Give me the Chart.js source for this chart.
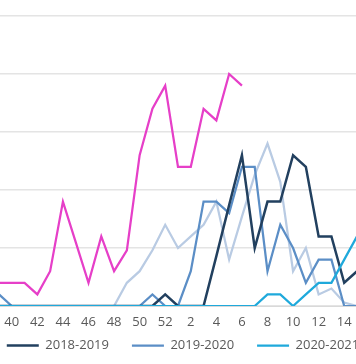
<!DOCTYPE html>
<html><head><meta charset="utf-8">
<script src="https://cdn.jsdelivr.net/npm/chart.js@4"></script>
<style>
html,body{margin:0;padding:0;background:#fff;overflow:hidden;width:356px;height:364px;position:relative;}
#wrap{position:absolute;left:-167px;top:0;width:700px;height:376px;}
</style></head><body>
<div id="wrap"><canvas id="c"></canvas></div>
<script>
const weeks = ['39','40','41','42','43','44','45','46','47','48','49','50','51','52','1','2','3','4','5','6','7','8','9','10','11','12','13','14','15'];
const seasons = ['2017-2018','2018-2019','2019-2020','2020-2021','2021-2022'];
const s2017 = [0,0,0,0,0,0,0,0,0,0,2,3,4.8,7,5,6,7,9,4,7.7,11.3,14,10.7,3,5,1,1.5,0.3,0];
const s2018 = [0,0,0,0,0,0,0,0,0,0,0,0,0,1,0,0,0,4.3,8.7,13,5,9,9,13,12,6,6,2,3];
const s2019 = [1,0,0,0,0,0,0,0,0,0,0,0,1,0,0,3,9,9,8,12,12,3,7,5,2,4,4,0,0];
const s2020 = [0,0,0,0,0,0,0,0,0,0,0,0,0,0,0,0,0,0,0,0,0,1,1,0,1,2,2,4,6];
const s2021 = [2,2,2,1,3,9,5.5,2,6,3,4.8,13,17,19,12,12,17,16,20,19,null,null,null,null,null,null,null,null,null];
const yTicks = [0,5,10,15,20,25];

const colors = ['#B9CBE3','#22405F','#5B8EC6','#1FA9DB','#E63FC8'];
const series = [s2017,s2018,s2019,s2020,s2021];
const drawOrder = [4,2,3,0,1];

const datasets = series.map((d,i)=>({
  label: seasons[i],
  data: d,
  borderColor: colors[i],
  backgroundColor: colors[i],
  borderWidth: i===1 ? 2.5 : 2.25,
  pointRadius: 0,
  pointHoverRadius: 0,
  tension: 0,
  fill: false,
  order: drawOrder[i],
  yAxisID: 'y'
}));

const legendShift = {
  id: 'legendShift',
  afterInit(chart, args, opts) {
    const lg = chart.legend;
    if (!lg) return;
    const d = lg.draw.bind(lg);
    lg.draw = function(area) {
      const c = this.ctx; c.save(); c.translate(0, opts.dy || 0); d(area); c.restore();
    };
  }
};

new Chart(document.getElementById('c'), {
  type: 'line',
  data: { labels: weeks, datasets },
  plugins: [legendShift],
  options: {
    responsive: true,
    maintainAspectRatio: false,
    animation: false,
    devicePixelRatio: 1,
    layout: { padding: { top: 16, left: 0, right: 0, bottom: 0 } },
    plugins: {
      tooltip: { enabled: false },
      legendShift: { dy: -14 },
      legend: {
        position: 'bottom',
        labels: {
          usePointStyle: true,
          pointStyle: 'line',
          pointStyleWidth: 32,
          padding: 23,
          color: '#595959',
          font: { family: 'Open Sans', size: 13 },
          sort: (a,b) => a.datasetIndex - b.datasetIndex
        }
      }
    },
    scales: {
      x: {
        type: 'category',
        grid: { display: false, drawTicks: false },
        border: { display: true, color: '#d9d9d9', width: 1 },
        ticks: {
          autoSkip: false, maxRotation: 0, minRotation: 0, padding: 8,
          color: '#595959',
          font: { family: 'Open Sans', size: 13 },
          callback: (v, i) => (Number(weeks[i]) % 2 === 0 ? weeks[i] : '')
        },
        afterFit: s => { s.height = 24; }
      },
      y: {
        position: 'left',
        min: yTicks[0], max: yTicks[yTicks.length-1],
        grid: { color: '#e4e4e4', lineWidth: 1.5, drawTicks: false },
        border: { display: false },
        ticks: { stepSize: 5, color: '#595959', font: { family: 'Open Sans', size: 13 } },
        afterFit: s => { s.width = 166; }
      },
      y2: {
        position: 'right',
        display: true,
        grid: { drawOnChartArea: false, drawTicks: false },
        border: { display: false },
        ticks: { display: false },
        afterFit: s => { s.width = 176; }
      }
    }
  }
});
</script>
</body></html>
